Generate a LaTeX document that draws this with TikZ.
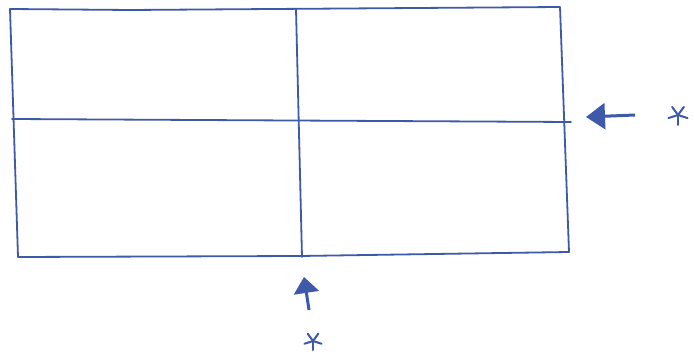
\documentclass[tikz,border=0pt]{standalone}
\usetikzlibrary{arrows.meta}
\definecolor{pen}{RGB}{62,88,170}
\tikzset{
  ink/.style={draw=pen, line width=1.8pt, line cap=round, line join=round},
  pointer/.style={draw=pen, line width=3pt, -{Triangle[length=19pt,width=26pt]}},
  starmark/.style={circle, inner sep=0pt, minimum size=2pt},
  starstroke/.style={draw=pen, line width=2pt, line cap=round}
}
\begin{document}
\begin{tikzpicture}[x=1pt,y=-1pt]
\useasboundingbox (0,0) rectangle (694,358);
% corners
\coordinate (tl) at (10,9);
\coordinate (tr) at (560,7);
\coordinate (bl) at (18,257);
\coordinate (br) at (569,252);
\coordinate (ml) at (12,119);
\coordinate (mr) at (571,122);
\coordinate (mt) at (296,9);
\coordinate (mb) at (302,257);
% outer frame
\draw[ink] (tl) -- (130,10) -- (tr) -- (br) -- (300,256) -- (bl) -- cycle;
% dividers
\draw[ink] (ml) -- (mr);
\draw[ink] (mt) -- (mb);
% right marker
\node[starmark] (s1) at (678,115) {};
\foreach \a in {90,162,234,306,18} \draw[starstroke] (s1.center) -- ++(\a:-10pt);
\coordinate (a1tail) at (635,115);
\coordinate (a1tip) at (586,117);
\draw[pointer] (a1tail) -- (a1tip);
% bottom marker
\node[starmark] (s2) at (313,341) {};
\foreach \a in {90,162,234,306,18} \draw[starstroke] (s2.center) -- ++(\a:-9pt);
\coordinate (a2tail) at (309,310);
\coordinate (a2tip) at (304,277);
\draw[pointer,-{Triangle[length=16pt,width=25pt]}] (a2tail) -- (a2tip);
\end{tikzpicture}
\end{document}
